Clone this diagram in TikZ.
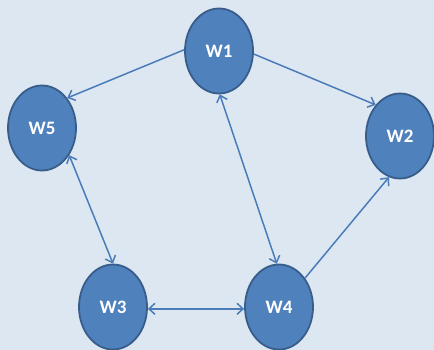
\documentclass[tikz,border=0pt]{standalone}
\usepackage{fontspec}
\setmainfont{Carlito}
\usetikzlibrary{shapes.geometric,arrows.meta}

\definecolor{bgblue}{RGB}{221,231,242}
\definecolor{nodeblue}{RGB}{79,129,189}
\definecolor{rimblue}{RGB}{56,93,138}
\definecolor{lineblue}{RGB}{74,124,186}

\begin{document}
\begin{tikzpicture}[
		x=1pt, y=-1pt,
		worker/.style = {ellipse, draw=rimblue, line width=1.8pt, fill=nodeblue, inner sep=0pt,
			minimum width=68pt, minimum height=85pt, text=white, font=\fontsize{19}{21}\selectfont\bfseries},
		link/.style   = {draw=lineblue, line width=1.5pt},
		>={Straight Barb[length=6pt,width=11pt]}]

		% background panel
		\fill[bgblue] (0,0) rectangle (434,350);
		\useasboundingbox (0,0) rectangle (434,350);

		% the five workers
		\node[worker] (w1) at (219,51)  {W1};
		\node[worker] (w2) at (400,136) {W2};
		\node[worker] (w3) at (113,307) {W3};
		\node[worker] (w4) at (279,307) {W4};
		\node[worker] (w5) at (42,128)  {W5};

		% one-way links
		\draw[link,->] (w1.178) -- (w5.50);
		\draw[link,->] (w1.-5) -- (w2.128);
		\draw[link,->] (w4.48) -- (w2.255);

		% two-way links
		\draw[link,<->] (w1.271) -- (w4.93);
		\draw[link,<->] (w5.-45) -- (w3.90);
		\draw[link,<->] (w3.-3) -- (w4.183);

	\end{tikzpicture}
\end{document}
